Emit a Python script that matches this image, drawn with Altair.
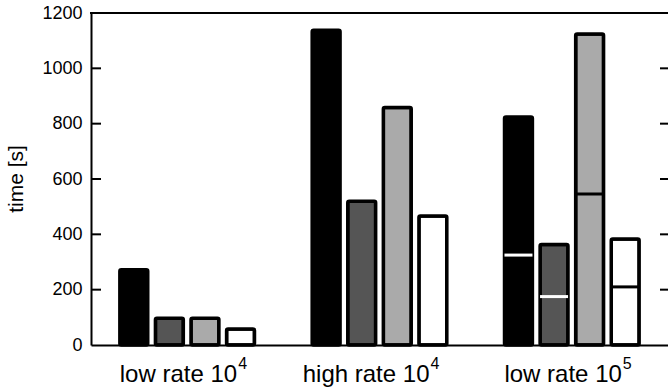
import altair as alt
import pandas as pd

# ---- data ----
groups = ["low rate 10⁴", "high rate 10⁴", "low rate 10⁵"]
group_sup = ["4", "4", "5"]
series = ["s1", "s2", "s3", "s4"]
fills = ["#000000", "#555555", "#aaaaaa", "#ffffff"]
values_low4 = [272, 97, 97, 58]
values_high4 = [1138, 520, 858, 466]
values_low5 = [824, 363, 1124, 383]
marker_values_low5 = [325, 175, 546, 210]
marker_colors = ["#ffffff", "#ffffff", "#000000", "#000000"]
y_ticks = [0, 200, 400, 600, 800, 1000, 1200]
y_title = "time [s]"

FONT = "Liberation Sans"
W, H = 577, 332
LABEL_SHIFT = 50

rows = []
for g, vals in zip(groups, [values_low4, values_high4, values_low5]):
    for s, v in zip(series, vals):
        rows.append({"group": g, "series": s, "value": v})
bars_df = pd.DataFrame(rows)

marker_df = pd.DataFrame({
    "group": [groups[2]] * 4,
    "series": series,
    "value": marker_values_low5,
    "mcolor": marker_colors,
})

sup_df = pd.DataFrame({"group": groups, "sup": group_sup})
ticks_df = pd.DataFrame({"value": y_ticks[1:-1]})
frame_df = pd.DataFrame({"value": [1200]})

x_axis = alt.Axis(title=None, labelAngle=0, ticks=False, tickSize=0,
                  domainColor="black", domainWidth=2,
                  labelExpr="slice(datum.label, 0, -1)",
                  labelAlign="right", labelOffset=LABEL_SHIFT,
                  labelBaseline="alphabetic",
                  labelFontSize=24, labelPadding=36, labelColor="black",
                  labelFont=FONT)
x_scale = alt.Scale(paddingInner=0.30, paddingOuter=0.15)
x_enc = alt.X("group:N", sort=groups, scale=x_scale, axis=x_axis)
xoff_enc = alt.XOffset("series:N", sort=series,
                       scale=alt.Scale(paddingInner=0.216, paddingOuter=0))
y_scale = alt.Scale(domain=[0, 1200], nice=False, zero=True)
y_axis = alt.Axis(title=None, values=y_ticks, format="d", grid=False,
                  ticks=False, tickSize=0, domainColor="black", domainWidth=2,
                  labelFontSize=18, labelPadding=9, labelColor="black",
                  labelFont=FONT)
y_enc = alt.Y("value:Q", scale=y_scale, axis=y_axis)

bars = alt.Chart(bars_df).mark_bar(
    stroke="black", strokeWidth=3.5, cornerRadius=1.5, strokeJoin="round"
).encode(
    x=x_enc, xOffset=xoff_enc, y=y_enc,
    fill=alt.Fill("series:N", scale=alt.Scale(domain=series, range=fills),
                  legend=None),
)

markers = alt.Chart(marker_df).mark_tick(thickness=3, size=28, opacity=1).encode(
    x=x_enc, xOffset=xoff_enc, y=y_enc,
    color=alt.Color("mcolor:N", scale=None),
)

sups = alt.Chart(sup_df).mark_text(
    align="left", baseline="alphabetic", dx=LABEL_SHIFT + 1,
    fontSize=16, font=FONT, color="black"
).encode(x=x_enc, y=alt.value(H + 24), text="sup:N")

left_ticks = alt.Chart(ticks_df).mark_rule(color="black", strokeWidth=2).encode(
    y=y_enc, x=alt.value(0), x2=alt.value(10)
)
right_ticks = alt.Chart(ticks_df).mark_rule(color="black", strokeWidth=2).encode(
    y=y_enc, x=alt.value(W - 8), x2=alt.value(W + 2)
)
top_border = alt.Chart(frame_df).mark_rule(color="black", strokeWidth=2).encode(
    y=y_enc, x=alt.value(-1), x2=alt.value(W + 10)
)

chart = alt.layer(bars, markers, left_ticks, right_ticks, top_border, sups).properties(
    width=W, height=H,
    autosize=alt.AutoSizeParams(type="none"),
    padding={"left": 91, "top": 13, "right": 0, "bottom": 43},
    background="white",
    title=alt.TitleParams(y_title, orient="left", anchor="middle",
                          fontSize=21, font=FONT, fontWeight="normal",
                          color="black", offset=15),
).configure_view(stroke=None)

chart.save("out.html", embed_options={"renderer": "svg", "actions": False})
